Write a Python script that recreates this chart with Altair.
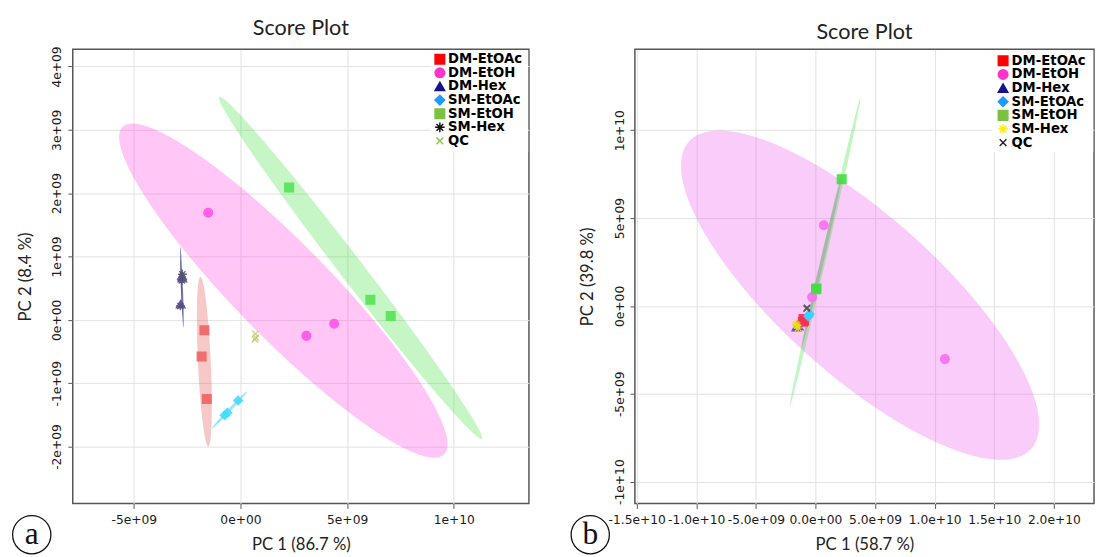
import numpy as np
import pandas as pd
import altair as alt

GROUPS = ["DM-EtOAc", "DM-EtOH", "DM-Hex", "SM-EtOAc", "SM-EtOH", "SM-Hex", "QC"]

# ---------------- Panel (a) scores ----------------
A_GROUP = (["DM-EtOAc"] * 3 + ["DM-EtOH"] * 3 + ["DM-Hex"] * 3 + ["SM-EtOAc"] * 3
           + ["SM-EtOH"] * 3 + ["SM-Hex"] * 3 + ["QC"] * 3)
A_PC1 = [-1.69e9, -1.82e9, -1.58e9,
         -1.51e9, 3.09e9, 4.39e9,
         -2.72e9, -2.74e9, -2.80e9,
         -0.74e9, -0.61e9, -0.11e9,
         2.28e9, 6.09e9, 7.04e9,
         -2.72e9, -2.75e9, -2.82e9,
         0.70e9, 0.72e9, 0.68e9]
A_PC2 = [-0.165e9, -0.578e9, -1.248e9,
         1.69e9, -0.253e9, -0.062e9,
         0.66e9, 0.70e9, 0.25e9,
         -1.506e9, -1.465e9, -1.274e9,
         2.09e9, 0.319e9, 0.062e9,
         0.72e9, 0.62e9, 0.22e9,
         -0.22e9, -0.28e9, -0.31e9]

# ---------------- Panel (b) scores ----------------
B_GROUP = A_GROUP
B_PC1 = [-0.95e9, -1.05e9, -1.00e9,
         0.70e9, -0.28e9, 10.86e9,
         -1.50e9, -1.60e9, -1.40e9,
         -0.49e9, -0.55e9, -0.60e9,
         2.20e9, 0.09e9, 0.05e9,
         -1.55e9, -1.45e9, -1.62e9,
         -0.72e9, -0.70e9, -0.75e9]
B_PC2 = [-0.84e9, -0.90e9, -0.75e9,
         4.59e9, 0.50e9, -3.03e9,
         -1.10e9, -1.20e9, -1.15e9,
         -0.46e9, -0.55e9, -0.60e9,
         7.21e9, 0.99e9, 0.95e9,
         -1.12e9, -1.25e9, -1.05e9,
         -0.13e9, -0.10e9, -0.16e9]

# ---------------- Confidence ellipses (centre, half major axis u, half minor axis v) ----------------
A_ELL_GROUP = ["DM-EtOH", "SM-EtOH", "DM-EtOAc", "SM-EtOAc", "DM-Hex", "SM-Hex"]
A_ELL_CX = [2.01e9, 5.16e9, -1.693e9, -0.511e9, -2.746e9, -2.76e9]
A_ELL_CY = [0.461e9, 0.821e9, -0.660e9, -1.421e9, 0.515e9, 0.50e9]
A_ELL_UX = [7.53e9, 6.155e9, 0.184e9, 0.823e9, 0.074e9, 0.05e9]
A_ELL_UY = [-2.586e9, -2.699e9, -1.338e9, 0.292e9, -0.634e9, -0.45e9]
A_ELL_VX = [1.578e9, 0.437e9, 0.299e9, 0.050e9, 0.05e9, 0.03e9]
A_ELL_VY = [0.520e9, 0.113e9, 0.005e9, -0.016e9, 0.0, 0.0]

B_ELL_GROUP = ["DM-EtOH", "SM-EtOH", "QC"]
B_ELL_CX = [3.74e9, 0.80e9, 0.49e9]
B_ELL_CY = [0.61e9, 3.05e9, 2.40e9]
B_ELL_UX = [14.35e9, 2.96e9, 1.65e9]
B_ELL_UY = [-8.75e9, 8.76e9, 4.74e9]
B_ELL_VX = [4.45e9, 0.20e9, 0.15e9]
B_ELL_VY = [3.35e9, -0.031e9, -0.024e9]

# ---------------- Axis ticks ----------------
A_XTICKS = [-5e9, 0.0, 5e9, 1e10]
A_XLABELS = ["-5e+09", "0e+00", "5e+09", "1e+10"]
A_YTICKS = [-2e9, -1e9, 0.0, 1e9, 2e9, 3e9, 4e9]
A_YLABELS = ["-2e+09", "-1e+09", "0e+00", "1e+09", "2e+09", "3e+09", "4e+09"]
B_XTICKS = [-1.5e10, -1e10, -5e9, 0.0, 5e9, 1e10, 1.5e10, 2e10]
B_XLABELS = ["-1.5e+10", "-1.0e+10", "-5.0e+09", "0.0e+00", "5.0e+09", "1.0e+10", "1.5e+10", "2.0e+10"]
B_YTICKS = [-1e10, -5e9, 0.0, 5e9, 1e10]
B_YLABELS = ["-1e+10", "-5e+09", "0e+00", "5e+09", "1e+10"]

# ---------------- Styles ----------------
ASTER = "M0,-1L0,1M-1,0L1,0M-0.7,-0.7L0.7,0.7M-0.7,0.7L0.7,-0.7"
XPATH = "M-0.7,-0.7L0.7,0.7M-0.7,0.7L0.7,-0.7"
SHAPES = {"DM-EtOAc": "square", "DM-EtOH": "circle", "DM-Hex": "triangle-up",
          "SM-EtOAc": "diamond", "SM-EtOH": "square", "SM-Hex": ASTER, "QC": XPATH}
STROKED = {"SM-Hex", "QC"}

LEG_A = {"DM-EtOAc": "#ff0000", "DM-EtOH": "#ff33cc", "DM-Hex": "#14148c", "SM-EtOAc": "#1e9bff",
         "SM-EtOH": "#7cc242", "SM-Hex": "#111111", "QC": "#8cc850"}
LEG_B = {"DM-EtOAc": "#ff0000", "DM-EtOH": "#ff33cc", "DM-Hex": "#14148c", "SM-EtOAc": "#1e9bff",
         "SM-EtOH": "#7cc242", "SM-Hex": "#ffee00", "QC": "#222222"}
PT_A = {"DM-EtOAc": "#f06464", "DM-EtOH": "#ff55e6", "DM-Hex": "#5548c8", "SM-EtOAc": "#44dcff",
        "SM-EtOH": "#55e455", "SM-Hex": "#555566", "QC": "#c8c87a"}
PT_B = {"DM-EtOAc": "#ff3050", "DM-EtOH": "#f870f0", "DM-Hex": "#6a3fe0", "SM-EtOAc": "#3fcfff",
        "SM-EtOH": "#44dd44", "SM-Hex": "#e8e010", "QC": "#555555"}
ELL_A = {"DM-EtOH": ("#ff33dd", 0.28), "SM-EtOH": ("#33dd33", 0.28), "DM-EtOAc": ("#e04848", 0.3),
         "SM-EtOAc": ("#33ccff", 0.5), "DM-Hex": ("#2a2a9a", 0.55), "SM-Hex": ("#000000", 0.3)}
ELL_B = {"DM-EtOH": ("#ee55ee", 0.3), "SM-EtOH": ("#33dd33", 0.3), "QC": ("#555555", 0.2)}

LAB_FONT = "DejaVu Sans"
TITLE_FONT = "Lato"


def lab_expr(vals, labs):
    e = "''"
    for v, l in zip(reversed(vals), reversed(labs)):
        e = f"datum.value === {float(v)} ? '{l}' : {e}"
    return e


def ellipse_frame(groups, cx, cy, ux, uy, vx, vy, styles, n=361):
    frames = []
    for i, g in enumerate(groups):
        R = np.hypot(ux[i], vx[i])
        phi = np.arctan2(vx[i], ux[i])
        s = np.linspace(0, np.pi, n)
        x = cx[i] + R * np.cos(s)
        y1 = cy[i] + uy[i] * np.cos(phi + s) + vy[i] * np.sin(phi + s)
        y2 = cy[i] + uy[i] * np.cos(phi - s) + vy[i] * np.sin(phi - s)
        frames.append(pd.DataFrame({"x": x, "lo": np.minimum(y1, y2), "hi": np.maximum(y1, y2),
                                    "eid": f"{i}-{g}", "fc": styles[g][0], "fo": styles[g][1]}))
    return pd.concat(frames, ignore_index=True)


def panel(groups, pc1, pc2, ell, leg_cols, pt_cols, xdom, ydom, W, H, xt, xl, yt, yl,
          xtitle, ytitle, ytp, leg_box, sym_x, txt_x, row0, row_step, letter, circ_x, circ_y):
    pts = pd.DataFrame({"x": pc1, "y": pc2, "group": groups})
    pts["shp"] = [SHAPES[g] for g in groups]
    pts["sc"] = [pt_cols[g] for g in groups]
    pts["fc"] = ["transparent" if g in STROKED else pt_cols[g] for g in groups]

    xs = alt.Scale(domain=xdom, nice=False, zero=False)
    ys = alt.Scale(domain=ydom, nice=False, zero=False)
    xenc = alt.X("x:Q", scale=xs,
                 axis=alt.Axis(values=xt, labelExpr=lab_expr(xt, xl), title=xtitle, grid=True,
                               labelPadding=5, titlePadding=11))
    yenc = alt.Y("y:Q", scale=ys,
                 axis=alt.Axis(values=yt, labelExpr=lab_expr(yt, yl), title=ytitle, orient="left",
                               grid=True, gridColor="#e1e1e1", gridWidth=1,
                               labelAngle=270, labelAlign="center", labelBaseline="bottom",
                               labelPadding=4, titlePadding=ytp))

    ell_layer = alt.Chart(ell).mark_area(orient="vertical", interpolate="linear").encode(
        x=alt.X("x:Q", scale=xs),
        y=alt.Y("lo:Q", scale=ys, axis=None),
        y2="hi:Q",
        detail="eid:N",
        fill=alt.Fill("fc:N", scale=None),
        fillOpacity=alt.FillOpacity("fo:Q", scale=None),
    )

    point_layer = alt.Chart(pts).mark_point(size=80, strokeWidth=1.3, opacity=0.9).encode(
        x=xenc, y=yenc,
        shape=alt.Shape("shp:N", scale=None),
        fill=alt.Fill("fc:N", scale=None),
        stroke=alt.Stroke("sc:N", scale=None),
    )

    # ---- legend (drawn as marks on its own row scale) ----
    leg = pd.DataFrame({"group": GROUPS})
    leg["shp"] = [SHAPES[g] for g in GROUPS]
    leg["sc"] = [leg_cols[g] for g in GROUPS]
    leg["fc"] = ["transparent" if g in STROKED else leg_cols[g] for g in GROUPS]
    row_scale = alt.Scale(domain=GROUPS, range=[row0, row0 + row_step * (len(GROUPS) - 1)], padding=0)
    one = pd.DataFrame({"k": [0]})
    leg_bg = alt.Chart(one).mark_rect(fill="white").encode(
        x=alt.value(leg_box[0]), x2=alt.value(leg_box[1]),
        y=alt.value(leg_box[2]), y2=alt.value(leg_box[3]))
    leg_sym = alt.Chart(leg).mark_point(size=95, strokeWidth=1.5, opacity=1).encode(
        x=alt.value(sym_x),
        y=alt.Y("group:N", scale=row_scale, axis=None),
        shape=alt.Shape("shp:N", scale=None),
        fill=alt.Fill("fc:N", scale=None),
        stroke=alt.Stroke("sc:N", scale=None),
    )
    leg_txt = alt.Chart(leg).mark_text(align="left", baseline="middle", font=LAB_FONT,
                                       fontSize=13.5, fontWeight="bold", color="#000").encode(
        x=alt.value(txt_x),
        y=alt.Y("group:N", scale=row_scale, axis=None),
        text="group:N",
    )

    circ = alt.Chart(one).mark_point(shape="circle", size=1520, filled=False, stroke="#111",
                                     strokeWidth=1.3, opacity=1).encode(
        x=alt.value(circ_x), y=alt.value(circ_y))
    lett = alt.Chart(one).mark_text(text=letter, font="Liberation Serif", fontSize=32,
                                    baseline="middle", align="center", color="#111").encode(
        x=alt.value(circ_x), y=alt.value(circ_y - 1))

    return alt.layer(ell_layer, point_layer, leg_bg, leg_sym, leg_txt, circ, lett).resolve_scale(
        y="independent"
    ).properties(
        width=W, height=H,
        title=alt.Title("Score Plot", font=TITLE_FONT, fontSize=22, fontWeight="normal",
                        color="#222", offset=6, anchor="middle", frame="group"),
    )


ell_a = ellipse_frame(A_ELL_GROUP, A_ELL_CX, A_ELL_CY, A_ELL_UX, A_ELL_UY, A_ELL_VX, A_ELL_VY, ELL_A)
ell_b = ellipse_frame(B_ELL_GROUP, B_ELL_CX, B_ELL_CY, B_ELL_UX, B_ELL_UY, B_ELL_VX, B_ELL_VY, ELL_B)

pa = panel(A_GROUP, A_PC1, A_PC2, ell_a, LEG_A, PT_A, [-7.86e9, 13.52e9], [-2.90e9, 4.27e9],
           465, 463, A_XTICKS, A_XLABELS, A_YTICKS, A_YLABELS,
           "PC 1 (86.7 %)", "PC 2 (8.4 %)", 17,
           (365.5, 464.2, 0.8, 104.7), 374.2, 382.5, 10.0, 13.9, "a", -41.8, 494.7)
pb = panel(B_GROUP, B_PC1, B_PC2, ell_b, LEG_B, PT_B, [-1.515e10, 2.337e10], [-11.25e9, 14.6e9],
           468, 463, B_XTICKS, B_XLABELS, B_YTICKS, B_YLABELS,
           "PC 1 (58.7 %)", "PC 2 (39.8 %)", 17,
           (364.0, 467.2, 0.8, 104.7), 375.3, 384.0, 11.7, 13.9, "b", -45.5, 494.7)

chart = alt.hconcat(pa, pb, spacing=38).resolve_scale(
    x="independent", y="independent"
).properties(
    padding={"left": 1, "top": 2.8, "right": 0, "bottom": 0}, background="white"
).configure_view(
    stroke="#555", strokeWidth=1.5
).configure_axis(
    grid=True, gridColor="#e1e1e1", gridWidth=1, domain=False,
    tickColor="#555", tickSize=5, tickWidth=1,
    labelFont=LAB_FONT, labelFontSize=12.5, labelColor="#1a1a1a", labelOverlap=False,
    labelFlush=False, labelBound=False,
    titleFont=TITLE_FONT, titleFontSize=17, titleFontWeight="normal", titleColor="#222",
)

chart.save("out.html", embed_options={"renderer": "svg", "actions": False})
